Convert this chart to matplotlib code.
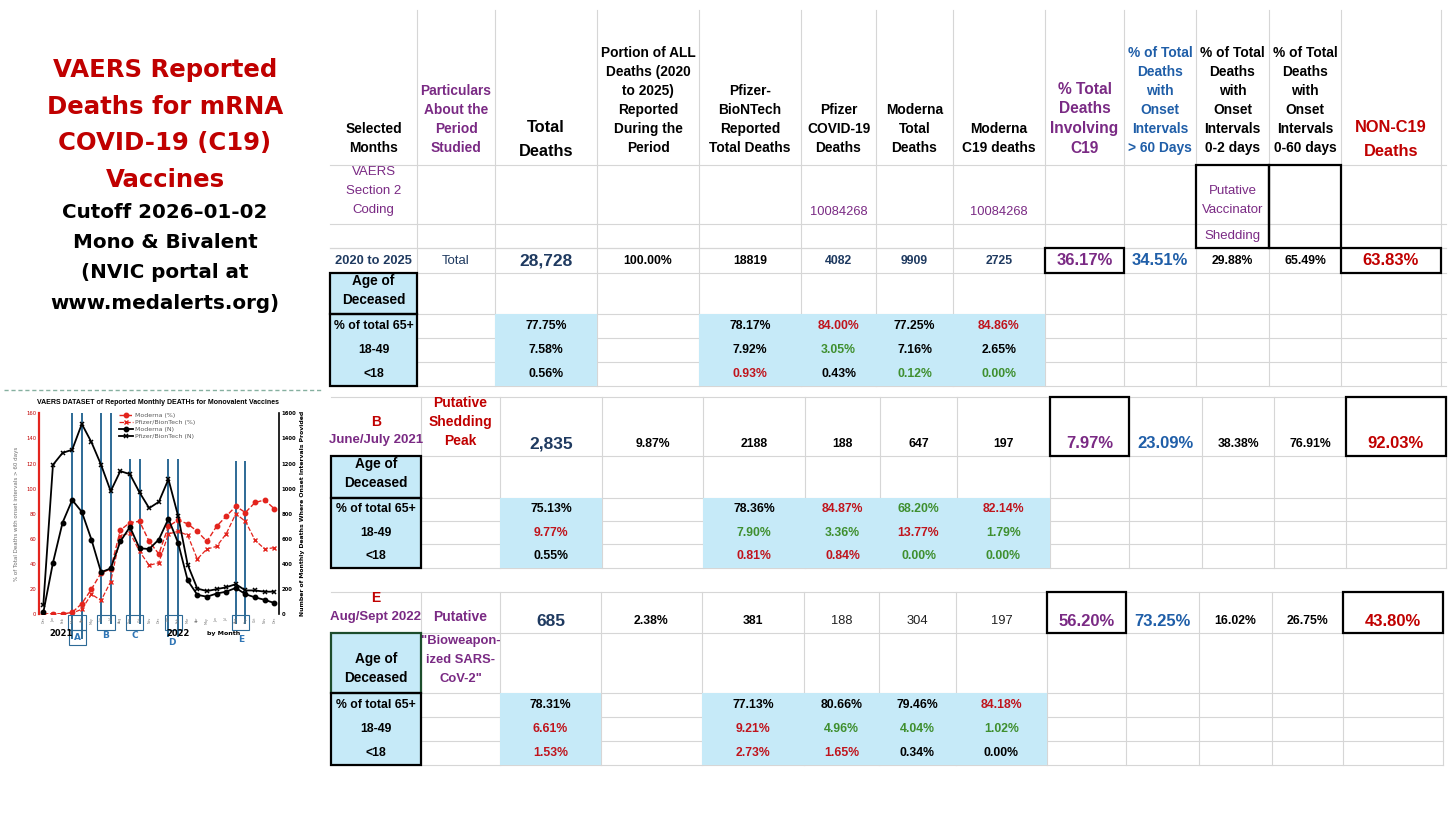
import matplotlib
matplotlib.use("Agg")
import matplotlib.pyplot as plt
from matplotlib.patches import Rectangle
from matplotlib import font_manager

# ---------------- table data ----------------
headers = [
    "Selected\nMonths",
    "Particulars\nAbout the\nPeriod\nStudied",
    "Total\nDeaths",
    "Portion of ALL\nDeaths (2020\nto 2025)\nReported\nDuring the\nPeriod",
    "Pfizer-\nBioNTech\nReported\nTotal Deaths",
    "Pfizer\nCOVID-19\nDeaths",
    "Moderna\nTotal\nDeaths",
    "Moderna\nC19 deaths",
    "% Total\nDeaths\nInvolving\nC19",
    "% of Total\nDeaths\nwith\nOnset\nIntervals\n> 60 Days",
    "% of Total\nDeaths\nwith\nOnset\nIntervals\n0-2 days",
    "% of Total\nDeaths\nwith\nOnset\nIntervals\n0-60 days",
    "NON-C19\nDeaths",
]
section2_code = "10084268"
period_letter = ["", "B", "E"]
period_name = ["2020 to 2025", "June/July 2021", "Aug/Sept 2022"]
particulars = ["Total", "Putative\nShedding\nPeak", "Putative"]
total_deaths = ["28,728", "2,835", "685"]
portion_all = ["100.00%", "9.87%", "2.38%"]
pfizer_total = ["18819", "2188", "381"]
pfizer_c19 = ["4082", "188", "188"]
moderna_total = ["9909", "647", "304"]
moderna_c19 = ["2725", "197", "197"]
pct_c19 = ["36.17%", "7.97%", "56.20%"]
pct_over60 = ["34.51%", "23.09%", "73.25%"]
pct_0_2 = ["29.88%", "38.38%", "16.02%"]
pct_0_60 = ["65.49%", "76.91%", "26.75%"]
pct_non_c19 = ["63.83%", "92.03%", "43.80%"]

age_groups = ["% of total 65+", "18-49", "<18"]
age_total = [["77.75%", "7.58%", "0.56%"], ["75.13%", "9.77%", "0.55%"], ["78.31%", "6.61%", "1.53%"]]
age_pfizer_total = [["78.17%", "7.92%", "0.93%"], ["78.36%", "7.90%", "0.81%"], ["77.13%", "9.21%", "2.73%"]]
age_pfizer_c19 = [["84.00%", "3.05%", "0.43%"], ["84.87%", "3.36%", "0.84%"], ["80.66%", "4.96%", "1.65%"]]
age_moderna_total = [["77.25%", "7.16%", "0.12%"], ["68.20%", "13.77%", "0.00%"], ["79.46%", "4.04%", "0.34%"]]
age_moderna_c19 = [["84.86%", "2.65%", "0.00%"], ["82.14%", "1.79%", "0.00%"], ["84.18%", "1.02%", "0.00%"]]

# ---------------- inset chart data ----------------
months = ["Dec", "Jan", "Feb", "Mar", "Apr", "May", "Jun", "Jul", "Aug", "Sep", "Oct", "Nov",
          "Dec", "Jan", "Feb", "Mar", "Apr", "May", "Jun", "Jul", "Aug", "Sep", "Oct", "Nov", "Dec"]
moderna_pct = [0, 0.5, 0.3, 1.5, 8.5, 20, 33, 36, 67, 73, 74, 58, 48, 70, 75, 72, 66, 58, 70, 78, 86, 81, 89, 91, 84]
pfizer_pct = [0, 0.5, 0, 1, 4, 16, 11, 26, 62, 65, 50, 39, 41, 64, 66, 63, 44, 52, 54, 64, 80, 74, 59, 52, 53]
moderna_n = [15, 410, 730, 910, 815, 595, 335, 365, 580, 695, 525, 520, 595, 760, 570, 270, 155, 140, 165, 180, 210, 160, 135, 115, 90]
pfizer_n = [75, 1190, 1285, 1310, 1515, 1370, 1190, 980, 1140, 1115, 970, 845, 895, 1075, 785, 395, 205, 185, 200, 215, 240, 190, 190, 180, 180]
period_marks = ["A", "B", "C", "D", "E"]
period_months = [(3, 4), (6, 7), (9, 10), (13, 14), (20, 21)]

# ---------------- styles ----------------
W, H = 1456, 819
RED = "#c00000"
PURPLE = "#7a2a84"
BLUE = "#1f5ea8"
NAVY = "#1f3a60"
GREEN = "#3f8f2f"
LBLUE = "#c6eaf8"
GRID = "#d6d6d6"
TINT = {"k": "black", "r": "#c0141c", "g": GREEN}
age_tint = [["kkk", "kkr", "rgk", "kkg", "rkg"],
            ["krk", "kgr", "rgr", "grg", "rgg"],
            ["krr", "krr", "kgr", "kgk", "rgk"]]

names = {f.name for f in font_manager.fontManager.ttflist}
SANS = ["Liberation Sans", "DejaVu Sans"]
if "Liberation Sans Narrow" in names:
    NUM, NUM_SIZE = ["Liberation Sans Narrow", "DejaVu Sans"], 10
else:
    NUM, NUM_SIZE = SANS, 8.8

fig = plt.figure(figsize=(W / 100, H / 100), dpi=100)
ax = fig.add_axes([0, 0, 1, 1])
ax.set_xlim(0, W)
ax.set_ylim(H, 0)
ax.axis("off")


def put(x, y, s, size, color="black", weight="bold", family=None, step=19):
    # y is the centre of the first line
    for i, r in enumerate(s.split("\n")):
        ax.text(x, y + i * step, r, ha="center", va="center", fontsize=size,
                color=color, fontweight=weight, family=family or SANS, zorder=5)


def hline(y, x0, x1, c=GRID, lw=0.8):
    ax.plot([x0, x1], [y, y], color=c, lw=lw, zorder=1)


def vline(x, y0, y1, c=GRID, lw=0.8):
    ax.plot([x, x], [y0, y1], color=c, lw=lw, zorder=1)


def fill(x0, x1, y0, y1):
    ax.add_patch(Rectangle((x0, y0), x1 - x0, y1 - y0, fc=LBLUE, ec="none", zorder=2))


def box(x0, x1, y0, y1, c="black", lw=1.6):
    ax.add_patch(Rectangle((x0, y0), x1 - x0, y1 - y0, fill=False, ec=c, lw=lw, zorder=6))


blocks = [
    dict(xs=[330, 417, 495, 597, 699, 801, 876, 953, 1045, 1124, 1196, 1269, 1341, 1441],
         right=1446, main=(248, 273), age=(273, 314), rows=[314, 338, 362, 386],
         vy=260.5, agey=281),
    dict(xs=[331, 421, 500, 602, 703, 805, 880, 957, 1050, 1129, 1202, 1274, 1346, 1446],
         right=1446, main=(397, 456), age=(456, 498), rows=[498, 521, 544, 568],
         vy=444, agey=464),
    dict(xs=[331, 421, 500, 601, 702, 804, 879, 956, 1047, 1126, 1199, 1272, 1343, 1443],
         right=1443, main=(592, 633), age=(633, 693), rows=[693, 717, 741, 765],
         vy=621, agey=659),
]

# ---- header ----
top = blocks[0]
cx = [(a + b) / 2 for a, b in zip(top["xs"][:-1], top["xs"][1:])]
head_color = ["black", PURPLE, "black", "black", "black", "black", "black", "black",
              PURPLE, BLUE, "black", "black", RED]
for i, h in enumerate(headers):
    n = len(h.split("\n"))
    if i in (2, 12):
        put(cx[i], 127, h, 11.8, head_color[i], step=24)
    elif i == 8:
        put(cx[i], 89, h, 11.2, head_color[i], step=19.7)
    else:
        put(cx[i], 148 - (n - 1) * 19, h, 9.9, head_color[i])

for x in top["xs"][1:]:
    vline(x, 10, 386)
for y in [165, 224, 248]:
    hline(y, 330, top["right"])
put(cx[0], 172, "VAERS\nSection 2\nCoding", 9.5, PURPLE, weight="normal")
put(cx[5], 212, section2_code, 9.3, PURPLE, weight="normal", family=NUM)
put(cx[7], 212, section2_code, 9.3, PURPLE, weight="normal", family=NUM)
put(cx[10], 191, "Putative\nVaccinator", 9.5, PURPLE, weight="normal")
put(cx[10], 236, "Shedding", 9.5, PURPLE, weight="normal")
box(1196, 1269, 165, 248)
box(1269, 1341, 165, 248)

# ---- blocks ----
main_cols = [total_deaths, portion_all, pfizer_total, pfizer_c19, moderna_total, moderna_c19,
             pct_c19, pct_over60, pct_0_2, pct_0_60, pct_non_c19]
age_cols = [age_total, age_pfizer_total, age_pfizer_c19, age_moderna_total, age_moderna_c19]
age_col_idx = [2, 4, 5, 6, 7]

for b, blk in enumerate(blocks):
    xs = blk["xs"]
    c = [(p + q) / 2 for p, q in zip(xs[:-1], xs[1:])]
    m0, m1 = blk["main"]
    a1 = blk["age"][1]
    rows = blk["rows"]
    # grid
    for y in [m0, m1] + rows:
        hline(y, xs[0], blk["right"])
    if b > 0:
        for x in xs[1:]:
            vline(x, m0, rows[-1])
    # fills
    fill(xs[0], xs[1], m1, rows[-1])
    fill(xs[2], xs[3], rows[0], rows[-1])
    fill(xs[4], xs[8], rows[0], rows[-1])
    # first column
    if b == 0:
        put(c[0], blk["vy"], period_name[b], 9.3, NAVY)
        put(c[1], blk["vy"], particulars[b], 9.5, NAVY, weight="normal")
    else:
        put(c[0], m0 + 25 if b == 1 else m0 + 6, period_letter[b], 10, RED)
        put(c[0], m0 + 43 if b == 1 else m0 + 25, period_name[b], 9.5, PURPLE)
        if b == 1:
            put(c[1], 403, particulars[b], 10, RED)
        else:
            put(c[1], 617, particulars[b], 10, PURPLE)
            put(c[1], 641, "\"Bioweapon-\nized SARS-\nCoV-2\"", 9.4, PURPLE)
    # main row values
    for j, col in enumerate(main_cols):
        k = j + 2
        s = col[b]
        if k == 2:
            put(c[k], blk["vy"], s, 12.5, NAVY)
        elif k == 8:
            put(c[k], blk["vy"], s, 12, PURPLE)
        elif k == 9:
            put(c[k], blk["vy"], s, 12, BLUE)
        elif k == 12:
            put(c[k], blk["vy"], s, 12, RED)
        elif k in (5, 6, 7):
            if b == 0:
                put(c[k], blk["vy"], s, NUM_SIZE, NAVY, family=NUM)
            elif b == 1:
                put(c[k], blk["vy"], s, NUM_SIZE, "black", family=NUM)
            else:
                put(c[k], blk["vy"], s, NUM_SIZE + 0.5, "#222222", weight="normal", family=NUM)
        else:
            put(c[k], blk["vy"], s, NUM_SIZE, "black", family=NUM)
    # age of deceased
    put(c[0], blk["agey"], "Age of\nDeceased", 9.8)
    for r, g in enumerate(age_groups):
        yc = (rows[r] + rows[r + 1]) / 2
        put(c[0], yc, g, NUM_SIZE, family=NUM)
        for j, col in enumerate(age_cols):
            put(c[age_col_idx[j]], yc, col[b][r], NUM_SIZE, TINT[age_tint[b][j][r]], family=NUM)
    # bold borders
    box(xs[0], xs[1], m1, a1, c="#1d4d2c" if b == 2 else "black")
    box(xs[0], xs[1], rows[0], rows[-1])
    box(xs[8], xs[9], m0, m1)
    box(xs[12], xs[13], m0, m1)

# ---------------- left title ----------------
put(165, 70, "VAERS Reported\nDeaths for mRNA\nCOVID-19 (C19)\nVaccines", 17.6, RED,
    family=["DejaVu Sans"], step=36.7)
put(165, 212, "Cutoff 2026\u201301-02\nMono & Bivalent\n(NVIC portal at\nwww.medalerts.org)", 14.3,
    "black", family=["DejaVu Sans"], step=30.5)

ax.plot([4, 322], [390, 390], color="#86b0a0", ls=(0, (3, 2)), lw=1)
ax.text(158, 402, "VAERS DATASET of Reported Monthly DEATHs for Monovalent Vaccines",
        ha="center", va="center", fontsize=5, fontweight="bold", family=SANS)

# ---------------- inset chart ----------------
cx0, cx1, cy0, cy1 = 39, 279, 413.3, 614.3
cax = fig.add_axes([cx0 / W, 1 - cy1 / H, (cx1 - cx0) / W, (cy1 - cy0) / H])
cax.set_facecolor("none")
nax = cax.twinx()
xi = list(range(len(months)))
cax.set_xlim(-0.45, 24.49)
cax.set_ylim(0, 160)
nax.set_ylim(0, 1600)

vl_top = [160, 160, 124, 124, 122]
vl_bot = [-20, -8, -8, -18, -8]
for (lo, hi), t, bt in zip(period_months, vl_top, vl_bot):
    lc = cax.vlines([lo, hi], bt, t, color="#2d6a96", lw=1.4, zorder=1)
    lc.set_clip_on(False)

l1, = cax.plot(xi, moderna_pct, color="#e3241d", ls="--", lw=1, marker="o", ms=3.2,
               label="Moderna (%)", zorder=3)
l2, = cax.plot(xi, pfizer_pct, color="#e3241d", ls="--", lw=0.9, marker="x", ms=3.2, mew=1,
               label="Pfizer/BionTech (%)", zorder=3)
l3, = nax.plot(xi, moderna_n, color="black", lw=1.3, marker="o", ms=3.2, label="Moderna (N)")
l4, = nax.plot(xi, pfizer_n, color="black", lw=1.3, marker="x", ms=3.5, mew=1.1,
               label="Pfizer/BionTech (N)")

cax.set_xticks([])
cax.set_yticks(range(0, 161, 20))
nax.set_yticks(range(0, 1601, 200))
cax.tick_params(axis="y", length=0, pad=2, labelsize=3.8, labelcolor=RED)
nax.tick_params(axis="y", length=0, pad=2, labelsize=3.8)
for lab in nax.get_yticklabels():
    lab.set_fontweight("bold")
for s in ["top", "bottom", "right"]:
    cax.spines[s].set_visible(False)
for s in ["top", "bottom", "left"]:
    nax.spines[s].set_visible(False)
cax.spines["left"].set_color("#e3241d")
cax.spines["left"].set_linewidth(1.6)
nax.spines["right"].set_linewidth(1.2)

for i, mname in enumerate(months):
    cax.text(i, -2, mname, rotation=90, ha="center", va="top", fontsize=2.3,
             color="#777777", clip_on=False)
for (lo, hi), mk in zip(period_months, period_marks):
    cax.add_patch(Rectangle((lo - 0.4, -12.5), hi - lo + 0.8, 12, fill=False, ec="#2d6a96",
                            lw=0.8, clip_on=False))
cax.add_patch(Rectangle((2.65, -24.4), 1.75, 11.9, fill=False, ec="#2d6a96", lw=0.8, clip_on=False))
letter_pos = [(3.53, -18.5), (6.5, -17), (9.5, -17), (13.4, -22.5), (20.6, -20.4)]
for mk, (lx, ly) in zip(period_marks, letter_pos):
    cax.text(lx, ly, mk, ha="center", va="center", fontsize=6.5, fontweight="bold",
             color="#2f75b5", clip_on=False)
cax.text(1.8, -15, "2021", ha="center", va="center", fontsize=6, fontweight="bold", clip_on=False)
cax.text(14.0, -15, "2022", ha="center", va="center", fontsize=6, fontweight="bold", clip_on=False)
cax.text(18.7, -15, "by Month", ha="center", va="center", fontsize=4.5, fontweight="bold", clip_on=False)

cax.text(-0.095, 0.5, "% of Total Deaths with onset intervals > 60 days", rotation=90,
         transform=cax.transAxes, ha="center", va="center", fontsize=4, color="#6b6b6b")
nax.text(1.096, 0.5, "Number of Monthly Deaths Where Onset Intervals Provided", rotation=90,
         transform=nax.transAxes, ha="center", va="center", fontsize=4.4, fontweight="bold")

leg = nax.legend(handles=[l1, l2, l3, l4], loc="upper left", bbox_to_anchor=(119, 413),
                 bbox_transform=ax.transData, frameon=False, fontsize=4.5, handlelength=2.2,
                 labelspacing=0.25, borderpad=0, handletextpad=0.3, borderaxespad=0)
for t in leg.get_texts():
    t.set_color("#595959")

fig.savefig("out.png", dpi=100, facecolor="white")
